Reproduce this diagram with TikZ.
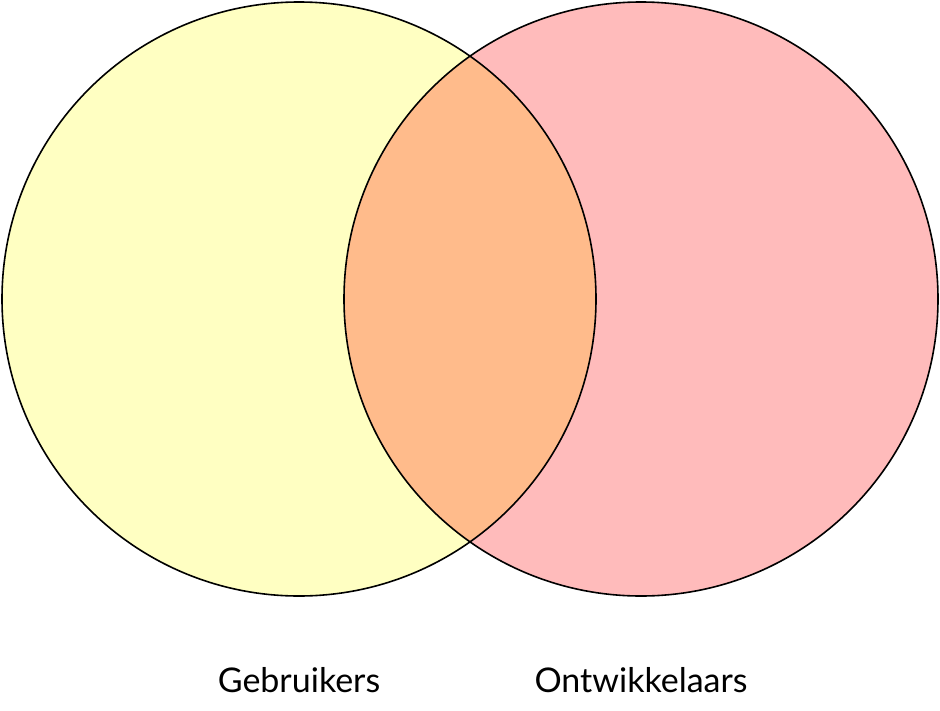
\documentclass[tikz,border=0pt]{standalone}
\usepackage{fontspec}
\setmainfont{Lato}
\definecolor{cyel}{HTML}{FFFFC2}
\definecolor{cpink}{HTML}{FFBBBB}
\definecolor{corange}{HTML}{FFBB8B}
\begin{document}
\begin{tikzpicture}[x=1pt,y=-1pt,
  circ/.style={draw=black,line width=1.6pt},
  lbl/.style={font=\fontsize{34}{40}\selectfont,anchor=base}]
\useasboundingbox (0,0) rectangle (940,710);
\fill[cyel] (299,299) circle (297);
\fill[cpink] (641,299) circle (297);
\begin{scope}
\clip (299,299) circle (297);
\fill[corange] (641,299) circle (297);
\end{scope}
\node[circ,circle,minimum size=594pt,inner sep=0pt] (gebr) at (299,299) {};
\node[circ,circle,minimum size=594pt,inner sep=0pt] (ontw) at (641,299) {};
\node[lbl] (lg) at (299,692) {Gebruikers};
\node[lbl] (lo) at (641,692) {Ontwikkelaars};
\end{tikzpicture}
\end{document}
